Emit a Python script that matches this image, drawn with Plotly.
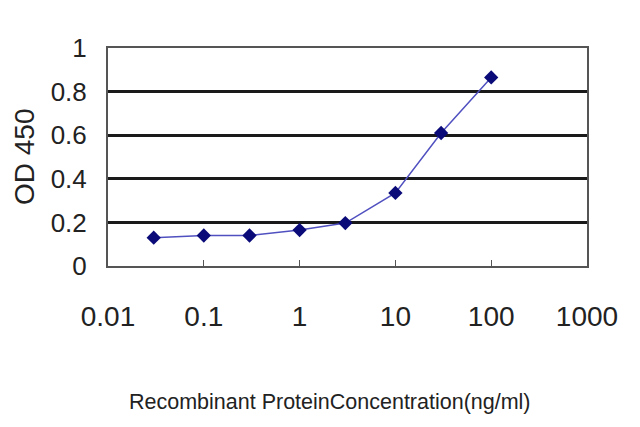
import plotly.graph_objects as go

# concentration (ng/ml) vs OD 450
concentration = [0.03, 0.1, 0.3, 1, 3, 10, 30, 100]
od450 = [0.13, 0.14, 0.14, 0.165, 0.197, 0.335, 0.61, 0.865]

x_ticks = [0.01, 0.1, 1, 10, 100, 1000]
x_tick_labels = ["0.01", "0.1", "1", "10", "100", "1000"]
y_ticks = [0, 0.2, 0.4, 0.6, 0.8, 1]
y_tick_labels = ["0", "0.2", "0.4", "0.6", "0.8", "1"]

fig = go.Figure()
fig.add_trace(go.Scatter(
    x=concentration,
    y=od450,
    mode="lines+markers",
    line=dict(color="#5050c0", width=1.5),
    marker=dict(symbol="diamond", size=11, color="#0a0a78"),
    showlegend=False,
))

# page body adds an 8px offset, margins are trimmed for it
fig.update_layout(
    width=640, height=427,
    margin=dict(l=100, r=61, t=40, b=169),
    paper_bgcolor="white",
    plot_bgcolor="white",
    font=dict(family="Liberation Sans, Arial, sans-serif", color="#222222"),
)

fig.update_xaxes(
    type="log",
    range=[-2, 3],
    tickvals=x_ticks,
    ticktext=x_tick_labels,
    tickfont=dict(size=28),
    ticklabelstandoff=24,
    ticks="inside", ticklen=6, tickcolor="#555555",
    showgrid=False,
    showline=True, linecolor="#555555", linewidth=2, mirror=True,
    automargin=False,
)

fig.update_yaxes(
    range=[0, 1],
    tickvals=y_ticks,
    ticktext=y_tick_labels,
    tickfont=dict(size=26),
    ticklabelstandoff=14,
    showgrid=True, gridcolor="#1a1a1a", gridwidth=2.5,
    showline=True, linecolor="#555555", linewidth=2, mirror=True,
    zeroline=False,
    automargin=False,
)

# axis titles placed as annotations to match the original offsets
fig.add_annotation(text="Recombinant ProteinConcentration(ng/ml)",
                   xref="paper", yref="paper", x=(330 - 108) / 479, y=-(401 - 265) / 218,
                   showarrow=False, font=dict(size=21.5), xanchor="center", yanchor="middle")
fig.add_annotation(text="OD 450", textangle=-90,
                   xref="paper", yref="paper", x=-(108 - 24) / 479, y=0.5,
                   showarrow=False, font=dict(size=28), xanchor="center", yanchor="middle")

fig.write_html("out.html")
